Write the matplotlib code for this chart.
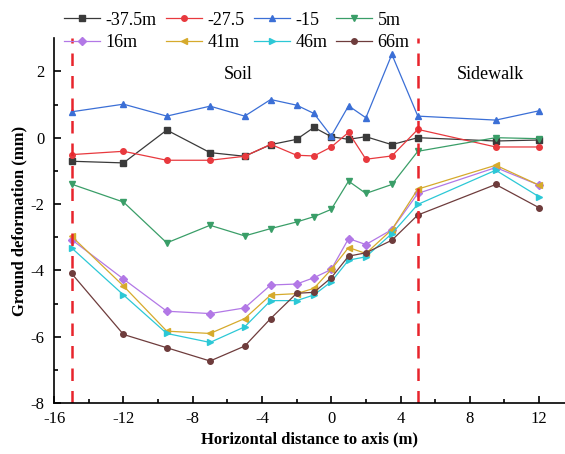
import numpy as np
import matplotlib.pyplot as plt

# horizontal distance to axis (m)
x = [-15, -12, -9.5, -7, -5, -3.5, -2, -1, 0, 1, 2, 3.5, 5, 9.5, 12]

labels = ['-37.5m', '-27.5', '-15', '5m', '16m', '41m', '46m', '66m']
d_m375 = [-0.71, -0.76, 0.23, -0.45, -0.56, -0.21, -0.05, 0.31, 0.03, -0.05, 0.03, -0.21, 0.0, -0.1, -0.07]
d_m275 = [-0.51, -0.41, -0.68, -0.68, -0.56, -0.2, -0.53, -0.55, -0.28, 0.16, -0.65, -0.55, 0.25, -0.28, -0.28]
d_m15 = [0.78, 1.01, 0.65, 0.95, 0.65, 1.15, 0.98, 0.73, 0.05, 0.96, 0.6, 2.51, 0.65, 0.53, 0.81]
d_5 = [-1.4, -1.94, -3.17, -2.64, -2.96, -2.74, -2.54, -2.38, -2.16, -1.31, -1.68, -1.41, -0.41, 0.0, -0.03]
d_16 = [-3.07, -4.26, -5.23, -5.3, -5.13, -4.44, -4.41, -4.22, -3.97, -3.04, -3.22, -2.77, -1.68, -0.9, -1.43]
d_41 = [-2.97, -4.47, -5.83, -5.9, -5.45, -4.74, -4.7, -4.54, -3.97, -3.31, -3.49, -2.77, -1.55, -0.83, -1.43]
d_46 = [-3.32, -4.74, -5.9, -6.17, -5.7, -4.91, -4.91, -4.74, -4.34, -3.69, -3.59, -2.89, -2.01, -0.98, -1.78]
d_66 = [-4.09, -5.93, -6.33, -6.73, -6.28, -5.45, -4.69, -4.66, -4.22, -3.57, -3.47, -3.09, -2.33, -1.41, -2.11]
series = [d_m375, d_m275, d_m15, d_5, d_16, d_41, d_46, d_66]

colors = ['#3a3a3a', '#e8393e', '#3b6fd6', '#3a9e68', '#b278e6', '#d6aa2c', '#2cc8d6', '#6e3c3c']
markers = ['s', 'o', '^', 'v', 'D', '<', '>', 'o']

plt.rcParams['font.family'] = ['Liberation Serif', 'DejaVu Serif']
plt.rcParams['axes.unicode_minus'] = False
fig = plt.figure(figsize=(5.65, 4.54), dpi=100)
ax = fig.add_axes([0.096, 0.112, 0.904, 0.804])

lines = []
for s, lab, c, m in zip(series, labels, colors, markers):
  ln, = ax.plot(x, s, color=c, marker=m, markersize=4, linewidth=0.9, label=lab)
  lines.append(ln)

ax.axvline(-15, color='#e8242c', linestyle=(0, (5, 4)), linewidth=1.8)
ax.axvline(5, color='#e8242c', linestyle=(0, (5, 4)), linewidth=1.8)

ax.text(-5.4, 1.9, 'Soil', fontsize=13, ha='center', va='center')
ax.text(9.2, 1.9, 'Sidewalk', fontsize=13, ha='center', va='center')

ax.set_xlim(-16, 13.5)
ax.set_ylim(-8, 3)
ax.set_xticks(np.arange(-16, 13, 4))
ax.set_xticks(np.arange(-14, 14, 4), minor=True)
ax.set_yticks(np.arange(-8, 3, 2))
ax.set_yticks(np.arange(-7, 3, 2), minor=True)
ax.tick_params(direction='in', labelsize=12, length=5, width=1.2)
ax.tick_params(axis='x', pad=6)
ax.tick_params(axis='y', pad=7)
ax.tick_params(which='minor', direction='in', length=3, width=1.2)
ax.spines['top'].set_visible(False)
ax.spines['right'].set_visible(False)
ax.spines['left'].set_linewidth(1.2)
ax.spines['bottom'].set_linewidth(1.2)

ax.set_xlabel('Horizontal distance to axis (m)', fontsize=12, fontweight='bold', labelpad=3)
ax.set_ylabel('Ground deformation (mm)', fontsize=12, fontweight='bold', labelpad=2)

# legend fills column-wise, so reorder to read row by row
order = [0, 4, 1, 5, 2, 6, 3, 7]
fig.legend([lines[i] for i in order], [labels[i] for i in order],
           loc='upper left', bbox_to_anchor=(0.085, 1.01), ncol=4, frameon=False,
           fontsize=13, handlelength=2.0, columnspacing=0.5, handletextpad=0.3,
           labelspacing=0.3)

plt.savefig('out.png')
